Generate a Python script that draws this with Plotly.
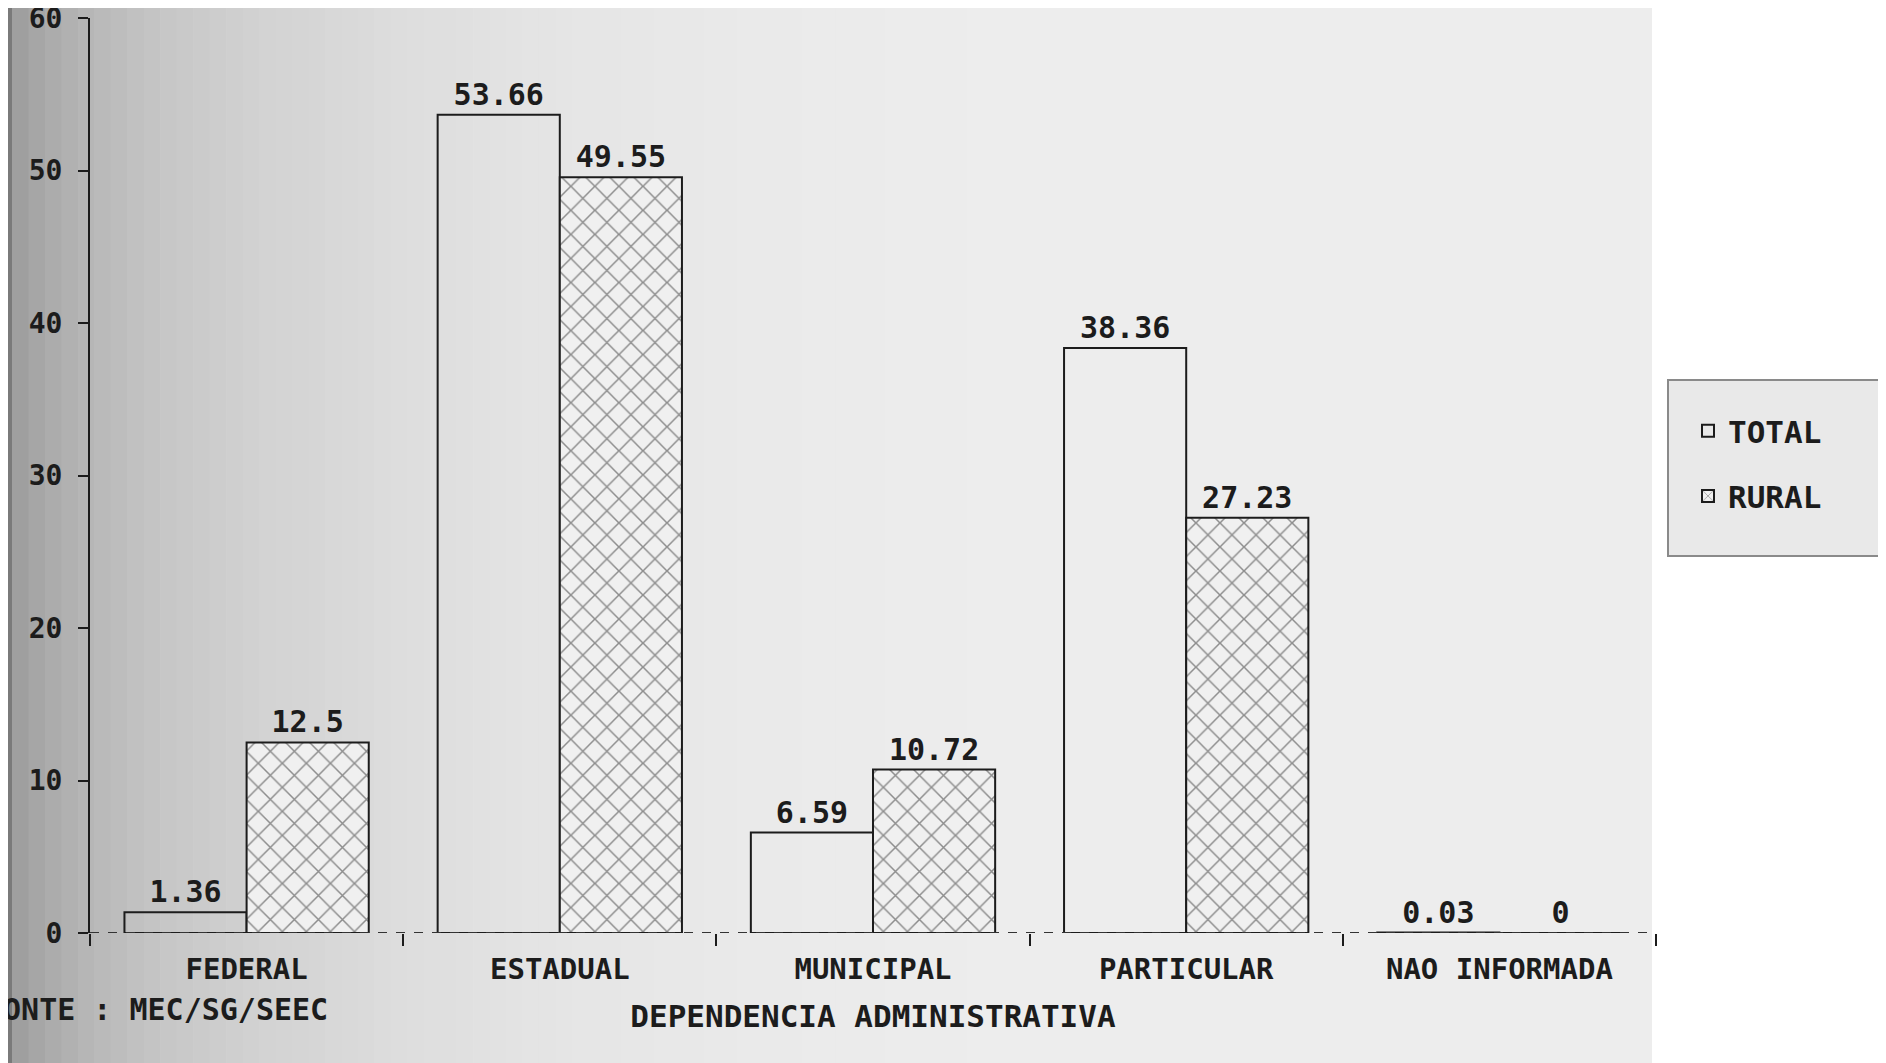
import plotly.graph_objects as go

categories = ["FEDERAL", "ESTADUAL", "MUNICIPAL", "PARTICULAR", "NAO INFORMADA"]
total_values = [1.36, 53.66, 6.59, 38.36, 0.03]
rural_values = [12.5, 49.55, 10.72, 27.23, 0]
total_text = ["1.36", "53.66", "6.59", "38.36", "0.03"]
rural_text = ["12.5", "49.55", "10.72", "27.23", "0"]
y_ticks = [0, 10, 20, 30, 40, 50, 60]

W, H = 1886, 1063
OFF = 8  # page body margin offset
# desired plot area in page pixels: x 90..1656, y 18..933
ML = 90 - OFF
MR = W - (1656 - OFF)
MT = 18 - OFF
MB = H - (933 - OFF)
PW = W - ML - MR
PH = H - MT - MB

def px_x(p):  # page pixel -> paper x
    return (p - OFF - ML) / PW

def px_y(p):  # page pixel -> paper y
    return (H - MB - (p - OFF)) / PH

FONT = "DejaVu Sans Mono"
INK = "#1c1c1c"

fig = go.Figure()
fig.add_trace(go.Bar(
    name="TOTAL", legendgroup="t", x=categories, y=total_values, text=total_text,
    textposition="outside", cliponaxis=False,
    marker=dict(color="rgba(0,0,0,0)", line=dict(color=INK, width=2)),
    textfont=dict(family=FONT, size=30, color=INK, weight="bold"),
))
fig.add_trace(go.Bar(
    name="RURAL", legendgroup="r", x=categories, y=rural_values, text=rural_text,
    textposition="outside", cliponaxis=False,
    marker=dict(color="#f0f0f0", line=dict(color=INK, width=2),
                pattern=dict(shape="x", fgcolor="#2a2a2a", bgcolor="#f0f0f0",
                             size=17, solidity=0.17)),
    textfont=dict(family=FONT, size=30, color=INK, weight="bold"),
))

def grey(v):
    v = int(round(v))
    return f"rgb({v},{v},{v})"

def page_rect(x0, x1, y0, y1, color, line=None):
    return dict(type="rect", xref="paper", yref="paper",
                x0=px_x(x0), x1=px_x(x1), y0=px_y(y1), y1=px_y(y0),
                fillcolor=color, line=line or dict(width=0), layer="below")

shapes = [page_rect(-20, 1652, -20, H + 20, "#ededed"),
          page_rect(-20, 3, -20, H + 20, "#d4d4d4"),
          page_rect(3, 12, -20, H + 20, "#7a7a7a")]
stops = [(12, 155), (40, 168), (90, 183), (160, 198), (260, 210), (400, 221),
         (560, 229), (760, 234), (1000, 237)]
n = 60
x_start, x_end = 12, 1000
for i in range(n):
    a = x_start + (x_end - x_start) * i / n
    b = x_start + (x_end - x_start) * (i + 1) / n
    m = (a + b) / 2
    for (p0, v0), (p1, v1) in zip(stops[:-1], stops[1:]):
        if p0 <= m <= p1:
            v = v0 + (v1 - v0) * (m - p0) / (p1 - p0)
            break
    shapes.append(page_rect(a, b + 0.6, -20, H + 20, grey(v)))
# legend box (scanned patch)
shapes.append(page_rect(1668, 1900, 380, 556, "#e9e9e9",
                        line=dict(color="#8a8a8a", width=2)))
# dashed baseline
shapes.append(dict(type="line", xref="paper", yref="y", x0=0, x1=px_x(1652),
                   y0=0, y1=0, line=dict(color="#333333", width=2, dash="dash"),
                   layer="above"))

fig.update_layout(
    width=W, height=H,
    margin=dict(l=ML, r=MR, t=MT, b=MB, autoexpand=False),
    paper_bgcolor="white", plot_bgcolor="rgba(0,0,0,0)",
    barmode="group", bargap=0.22, bargroupgap=0,
    font=dict(family=FONT, size=27, color=INK),
    shapes=shapes,
    showlegend=True,
    legend=dict(x=px_x(1688), xanchor="left", y=px_y(404), yanchor="top",
                bgcolor="rgba(0,0,0,0)", borderwidth=0,
                font=dict(family=FONT, size=31, color=INK, weight="bold"),
                itemwidth=30, tracegroupgap=22),
    annotations=[dict(text="FONTE : MEC/SG/SEEC", xref="paper", yref="paper",
                      x=px_x(-17), xanchor="left", y=px_y(1010), yanchor="middle",
                      showarrow=False,
                      font=dict(family=FONT, size=30, color=INK, weight="bold"))],
)
fig.update_xaxes(
    type="category", tickson="boundaries", ticks="outside", ticklen=12,
    tickwidth=2, tickcolor=INK, showline=False, showgrid=False, automargin=False,
    range=[-0.5, 4.5], ticklabelstandoff=16, ticklabeloverflow="allow",
    tickfont=dict(family=FONT, size=29, color=INK, weight="bold"),
    title=dict(text="DEPENDENCIA ADMINISTRATIVA", standoff=20,
               font=dict(family=FONT, size=31, color=INK, weight="bold")),
)
fig.update_yaxes(
    range=[0, 60], tickvals=y_ticks, ticktext=[str(v) for v in y_ticks],
    ticks="outside", ticklen=10, tickwidth=2, tickcolor=INK, automargin=False,
    showline=True, linecolor=INK, linewidth=2, showgrid=False, zeroline=False,
    ticklabelstandoff=10, ticklabeloverflow="allow",
    tickfont=dict(family=FONT, size=28, color=INK, weight="bold"),
)

fig.write_html("out.html")
